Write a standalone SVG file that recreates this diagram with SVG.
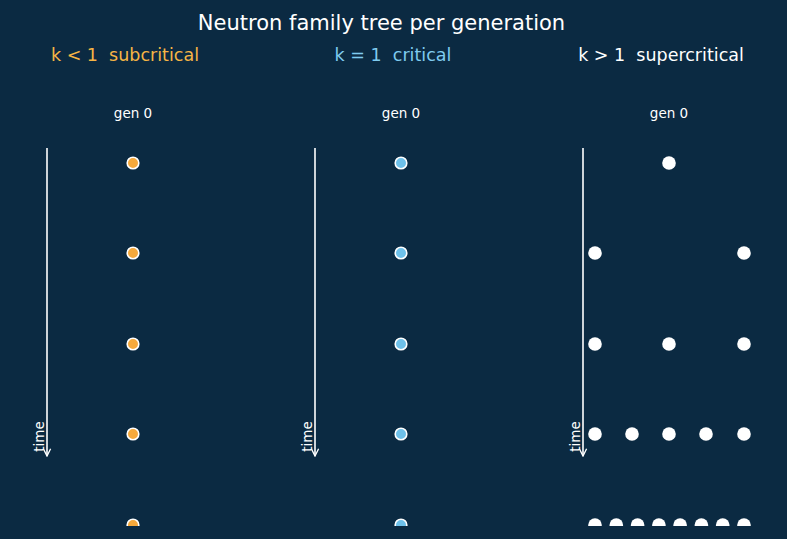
<svg xmlns="http://www.w3.org/2000/svg" width="787" height="539" viewBox="0 0 787 539">
<defs>
<style>
text{font-family:"DejaVu Sans",sans-serif;white-space:pre;}
.title{font-size:21px;fill:#ffffff;text-anchor:middle;}
.sub{font-size:17.5px;text-anchor:middle;}
.gen{font-size:13.5px;fill:#ffffff;text-anchor:middle;}
.time{font-size:13.5px;fill:#ffffff;text-anchor:middle;}
.axis{stroke:#ffffff;stroke-width:1.6;fill:none;}
.o{fill:#f6a93b;stroke:#ffffff;stroke-width:1.6;}
.b{fill:#6ec1ea;stroke:#ffffff;stroke-width:1.6;}
.w{fill:#ffffff;}
</style>
<marker id="arr" viewBox="0 0 10 10" refX="9" refY="5" markerWidth="9" markerHeight="9" markerUnits="userSpaceOnUse" orient="auto">
<path d="M1,1 L9,5 L1,9" fill="none" stroke="#ffffff" stroke-width="1.5"/>
</marker>
<clipPath id="clip"><rect x="0" y="0" width="787" height="526"/></clipPath>
</defs>
<rect width="787" height="539" fill="#0b2a42"/>
<text class="title" x="381.5" y="30">Neutron family tree per generation</text>
<text class="sub" x="125" y="61" fill="#f6b545" xml:space="preserve">k &lt; 1  subcritical</text>
<text class="sub" x="393" y="61" fill="#7fcbef" xml:space="preserve">k = 1  critical</text>
<text class="sub" x="661" y="61" fill="#ffffff" xml:space="preserve">k &gt; 1  supercritical</text>
<text class="gen" x="133" y="118">gen 0</text>
<text class="gen" x="401" y="118">gen 0</text>
<text class="gen" x="669" y="118">gen 0</text>
<g id="connectors">
<line class="axis" x1="47" y1="148" x2="47" y2="456" marker-end="url(#arr)"/>
<line class="axis" x1="315" y1="148" x2="315" y2="456" marker-end="url(#arr)"/>
<line class="axis" x1="583" y1="148" x2="583" y2="456" marker-end="url(#arr)"/>
</g>
<text class="time" transform="translate(43.5,436.5) rotate(-90)">time</text>
<text class="time" transform="translate(311.5,436.5) rotate(-90)">time</text>
<text class="time" transform="translate(579.5,436.5) rotate(-90)">time</text>
<g clip-path="url(#clip)">
<g id="subcritical">
<circle class="o" cx="133" cy="163" r="5.8"/>
<circle class="o" cx="133" cy="253" r="5.8"/>
<circle class="o" cx="133" cy="344" r="5.8"/>
<circle class="o" cx="133" cy="434" r="5.8"/>
<circle class="o" cx="133" cy="525" r="5.8"/>
</g>
<g id="critical">
<circle class="b" cx="401" cy="163" r="5.8"/>
<circle class="b" cx="401" cy="253" r="5.8"/>
<circle class="b" cx="401" cy="344" r="5.8"/>
<circle class="b" cx="401" cy="434" r="5.8"/>
<circle class="b" cx="401" cy="525" r="5.8"/>
</g>
<g id="supercritical">
<circle class="w" cx="669" cy="163" r="6.8"/>
<circle class="w" cx="595" cy="253" r="6.8"/>
<circle class="w" cx="744" cy="253" r="6.8"/>
<circle class="w" cx="595" cy="344" r="6.8"/>
<circle class="w" cx="669" cy="344" r="6.8"/>
<circle class="w" cx="744" cy="344" r="6.8"/>
<circle class="w" cx="595" cy="434" r="6.8"/>
<circle class="w" cx="632" cy="434" r="6.8"/>
<circle class="w" cx="669" cy="434" r="6.8"/>
<circle class="w" cx="706" cy="434" r="6.8"/>
<circle class="w" cx="744" cy="434" r="6.8"/>
<circle class="w" cx="595" cy="525" r="6.8"/>
<circle class="w" cx="616.3" cy="525" r="6.8"/>
<circle class="w" cx="637.6" cy="525" r="6.8"/>
<circle class="w" cx="658.9" cy="525" r="6.8"/>
<circle class="w" cx="680.1" cy="525" r="6.8"/>
<circle class="w" cx="701.4" cy="525" r="6.8"/>
<circle class="w" cx="722.7" cy="525" r="6.8"/>
<circle class="w" cx="744" cy="525" r="6.8"/>
</g>
</g>
</svg>
